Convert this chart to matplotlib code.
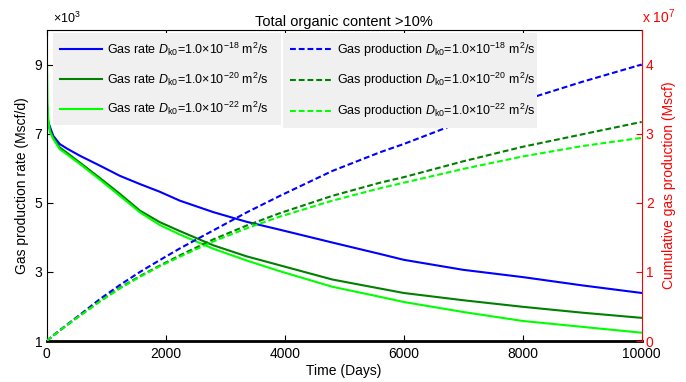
import numpy as np
import matplotlib
matplotlib.use("Agg")
import matplotlib.pyplot as plt

plt.rcParams['font.family'] = ['Liberation Sans', 'DejaVu Sans']
plt.rcParams['mathtext.fontset'] = 'custom'
plt.rcParams['mathtext.rm'] = 'Liberation Sans'
plt.rcParams['mathtext.it'] = 'Liberation Sans:italic'

# time (days)
t = [0, 15, 30, 55, 110, 220, 340, 560, 900, 1230, 1570, 1900, 2240, 2800,
     3360, 3920, 4800, 5600, 6000, 7000, 8000, 9000, 10000]

# gas rate, x10^3 Mscf/d
rate_18 = [7.6, 7.42, 7.32, 7.2, 6.94, 6.70, 6.57, 6.36, 6.07, 5.78, 5.54, 5.32,
           5.06, 4.73, 4.45, 4.22, 3.85, 3.52, 3.35, 3.06, 2.85, 2.61, 2.39]
rate_20 = [8.1, 7.55, 7.3, 7.1, 6.89, 6.60, 6.45, 6.16, 5.71, 5.26, 4.77, 4.44,
           4.18, 3.77, 3.45, 3.19, 2.78, 2.52, 2.39, 2.18, 1.99, 1.82, 1.67]
rate_22 = [9.8, 7.9, 7.35, 7.05, 6.85, 6.55, 6.40, 6.12, 5.66, 5.20, 4.72, 4.36,
           4.08, 3.67, 3.33, 3.02, 2.57, 2.28, 2.13, 1.84, 1.58, 1.41, 1.24]

# cumulative production, x10^7 Mscf
cum_18 = [0, 0.011, 0.022, 0.04, 0.08, 0.155, 0.235, 0.38, 0.61, 0.81, 1.0, 1.17,
          1.34, 1.60, 1.86, 2.10, 2.46, 2.73, 2.85, 3.18, 3.48, 3.75, 4.00]
cum_20 = [0, 0.011, 0.022, 0.04, 0.078, 0.15, 0.23, 0.37, 0.58, 0.77, 0.94, 1.09,
          1.24, 1.47, 1.67, 1.85, 2.10, 2.29, 2.37, 2.60, 2.81, 2.99, 3.17]
cum_22 = [0, 0.011, 0.022, 0.04, 0.078, 0.15, 0.23, 0.365, 0.575, 0.76, 0.93, 1.08,
          1.22, 1.44, 1.63, 1.80, 2.03, 2.21, 2.29, 2.49, 2.67, 2.82, 2.94]

exponents = ['-18', '-20', '-22']
colors = ['#0000ff', '#008000', '#00ff00']

fig = plt.figure(figsize=(6.86, 3.82), dpi=100)
ax1 = fig.add_axes([0.068, 0.1073, 0.8674, 0.8142])
ax2 = ax1.twinx()

dash = (0, (2.8, 1.4))
rate_lines = []
cum_lines = []
for r, c, e, col in zip([rate_18, rate_20, rate_22], [cum_18, cum_20, cum_22],
                        exponents, colors):
    l1, = ax1.plot(t, r, color=col, lw=1.5,
                   label=r'Gas rate $D_{\mathrm{k0}}$=1.0$\times$10$^{%s}$ m$^2$/s' % e)
    l2, = ax2.plot(t, c, color=col, lw=1.5, linestyle=dash,
                   label=r'Gas production $D_{\mathrm{k0}}$=1.0$\times$10$^{%s}$ m$^2$/s' % e)
    rate_lines.append(l1)
    cum_lines.append(l2)

ax1.set_xlim(0, 10000)
ax1.set_ylim(1, 10)
ax1.set_xticks([0, 2000, 4000, 6000, 8000, 10000])
ax1.set_yticks([1, 3, 5, 7, 9])
ax1.tick_params(direction='in', length=4, width=0.8, labelsize=10, pad=3,
                top=True, right=False)
ax1.tick_params(axis='x', pad=4.5)
ax1.set_xlabel('Time (Days)', fontsize=10, labelpad=2)
ax1.set_ylabel('Gas production rate (Mscf/d)', fontsize=10, labelpad=4)
ax1.spines['bottom'].set_linewidth(2)
ax1.spines['right'].set_visible(False)
ax1.text(0.01, 1.012, r'$\times$10$^3$', transform=ax1.transAxes, fontsize=9,
         ha='left', va='bottom')
ax1.set_title('Total organic content >10%', fontsize=10.5, pad=3)

ax2.set_ylim(0, 4.5)
ax2.set_yticks([0, 1, 2, 3, 4])
ax2.tick_params(axis='y', direction='in', length=4, width=0.8, labelsize=10,
                pad=3, colors='red')
for s in ['top', 'bottom', 'left']:
    ax2.spines[s].set_visible(False)
ax2.spines['right'].set_color('red')
ax2.set_ylabel('Cumulative gas production (Mscf)', fontsize=10, color='red',
               labelpad=6)
ax2.text(1.0, 1.012, r'x 10$^7$', transform=ax2.transAxes, fontsize=10,
         ha='left', va='bottom', color='red')

leg_kw = dict(loc='upper left', mode='expand', fontsize=9, frameon=True,
              fancybox=False, facecolor='#f0f0f0', edgecolor='none',
              framealpha=1, handlelength=3.3, handletextpad=0.45,
              labelspacing=1.0, borderpad=0.6, borderaxespad=0)
leg1 = ax2.legend(handles=rate_lines, bbox_to_anchor=(0.0106, 0.0, 0.384, 0.99),
                  **leg_kw)
ax2.add_artist(leg1)
ax2.legend(handles=cum_lines, bbox_to_anchor=(0.397, 0.0, 0.427, 0.99), **leg_kw)

fig.savefig('out.png', dpi=100)
